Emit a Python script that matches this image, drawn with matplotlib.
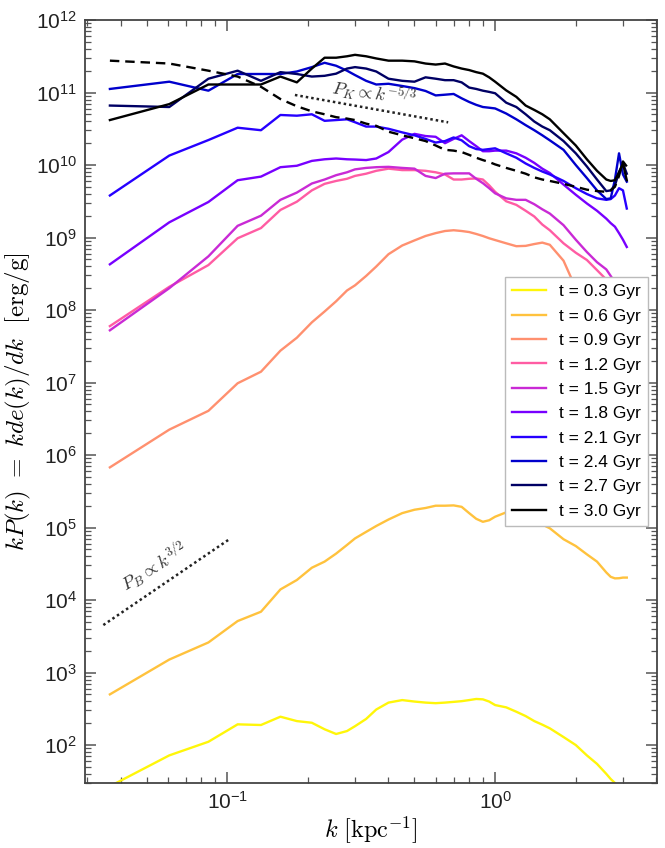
import matplotlib
matplotlib.use("Agg")
import matplotlib.pyplot as plt
from matplotlib.ticker import LogLocator, NullFormatter

plt.rcParams['font.family'] = ['Liberation Sans', 'DejaVu Sans']
plt.rcParams['mathtext.fontset'] = 'cm'

# wavenumber grid [kpc^-1]
k = [0.0365, 0.0608, 0.0851, 0.1094, 0.1337, 0.158, 0.182, 0.207, 0.231, 0.255,
     0.28, 0.30, 0.33, 0.36, 0.40, 0.45, 0.50, 0.55, 0.60, 0.65,
     0.70, 0.75, 0.80, 0.85, 0.90, 0.95, 1.0, 1.1, 1.2, 1.3,
     1.4, 1.5, 1.6, 1.8, 2.0, 2.2, 2.4, 2.6, 2.7, 2.8,
     2.9, 3.0, 3.1]

times = ["0.3", "0.6", "0.9", "1.2", "1.5", "1.8", "2.1", "2.4", "2.7", "3.0"]

# magnetic spectra kP(k) [erg/g]
p_03 = [27, 72, 111, 193, 189, 246, 214, 203, 165, 142,
        156, 182, 229, 309, 385, 417, 398, 385, 378, 385,
        394, 403, 417, 432, 427, 398, 356, 331, 288, 251,
        214, 191, 170, 129, 100, 72, 55, 40, 34, 30,
        25, 21, 19]
p_06 = [5.0e2, 1.51e3, 2.6e3, 5.13e3, 6.9e3, 1.4e4, 1.89e4, 2.79e4, 3.39e4, 4.37e4,
        5.75e4, 7.08e4, 8.71e4, 1.05e5, 1.29e5, 1.58e5, 1.76e5, 1.86e5, 2.0e5, 2.0e5,
        2.02e5, 1.93e5, 1.58e5, 1.32e5, 1.2e5, 1.26e5, 1.41e5, 1.62e5, 1.66e5, 1.51e5,
        1.26e5, 1.1e5, 9.77e4, 6.9e4, 5.56e4, 4.27e4, 3.39e4, 2.4e4, 2.09e4, 1.99e4,
        2.0e4, 2.04e4, 2.04e4]
p_09 = [6.76e5, 2.24e6, 4.07e6, 9.77e6, 1.41e7, 2.75e7, 4.15e7, 6.76e7, 9.55e7, 1.32e8,
        1.86e8, 2.19e8, 2.95e8, 3.98e8, 5.89e8, 7.76e8, 9.12e8, 1.05e9, 1.15e9, 1.23e9,
        1.26e9, 1.23e9, 1.19e9, 1.12e9, 1.05e9, 9.77e8, 9.23e8, 8.32e8, 7.59e8, 7.67e8,
        8.13e8, 8.51e8, 7.94e8, 4.79e8, 2.0e8, 7.9e7, 3.5e7, 1.6e7, 1.1e7, 7.9e6,
        6.3e6, 5.0e6, 4.0e6]
p_12 = [6.0e7, 2.09e8, 4.17e8, 9.77e8, 1.35e9, 2.4e9, 3.12e9, 4.47e9, 5.5e9, 6.03e9,
        6.46e9, 7.08e9, 7.59e9, 8.32e9, 8.91e9, 8.51e9, 8.51e9, 8.32e9, 7.94e9, 7.41e9,
        6.31e9, 6.31e9, 6.46e9, 6.53e9, 6.31e9, 5.25e9, 4.27e9, 3.16e9, 2.82e9, 2.34e9,
        1.95e9, 1.51e9, 1.26e9, 8.32e8, 6.17e8, 4.9e8, 3.55e8, 2.63e8, 2.0e8, 1.6e8,
        1.26e8, 1.0e8, 7.9e7]
p_15 = [5.25e7, 2.0e8, 5.5e8, 1.45e9, 2.0e9, 3.31e9, 4.17e9, 5.56e9, 6.31e9, 7.24e9,
        7.94e9, 8.71e9, 9.12e9, 9.33e9, 9.44e9, 9.12e9, 8.91e9, 7.08e9, 6.61e9, 7.59e9,
        7.67e9, 7.67e9, 7.67e9, 6.46e9, 5.62e9, 4.79e9, 4.07e9, 3.47e9, 3.31e9, 3.31e9,
        2.88e9, 2.45e9, 2.14e9, 1.48e9, 9.33e8, 6.31e8, 4.57e8, 3.63e8, 2.95e8, 2.4e8,
        2.0e8, 1.6e8, 1.26e8]
p_18 = [4.27e8, 1.62e9, 3.09e9, 6.17e9, 6.92e9, 9.33e9, 9.77e9, 1.14e10, 1.2e10, 1.23e10,
        1.2e10, 1.19e10, 1.17e10, 1.23e10, 1.51e10, 2.24e10, 2.69e10, 2.51e10, 2.45e10, 2.0e10,
        2.29e10, 2.57e10, 2.14e10, 1.82e10, 1.55e10, 1.55e10, 1.58e10, 1.58e10, 1.45e10, 1.26e10,
        1.07e10, 8.91e9, 7.76e9, 5.37e9, 3.89e9, 2.95e9, 2.34e9, 1.82e9, 1.58e9, 1.41e9,
        1.15e9, 9.33e8, 7.41e8]
p_21 = [3.8e9, 1.35e10, 2.21e10, 3.27e10, 3.02e10, 4.9e10, 4.79e10, 5.01e10, 4.07e10, 4.17e10,
        4.27e10, 3.89e10, 3.39e10, 3.39e10, 3.16e10, 2.82e10, 2.57e10, 2.29e10, 2.04e10, 2.14e10,
        2.4e10, 2.19e10, 1.82e10, 1.66e10, 1.62e10, 1.66e10, 1.7e10, 1.45e10, 1.26e10, 1.05e10,
        9.12e9, 8.13e9, 7.41e9, 6.03e9, 4.79e9, 3.98e9, 3.47e9, 3.31e9, 3.39e9, 3.8e9,
        4.79e9, 4.47e9, 2.51e9]
p_24 = [1.12e11, 1.41e11, 1.06e11, 1.8e11, 1.8e11, 1.8e11, 1.95e11, 2.24e11, 2.57e11, 2.34e11,
        2.0e11, 1.74e11, 1.45e11, 1.29e11, 1.32e11, 1.23e11, 1.15e11, 1.05e11, 9.12e10, 9.33e10,
        9.55e10, 8.32e10, 7.41e10, 6.76e10, 6.31e10, 6.17e10, 6.03e10, 5.13e10, 4.27e10, 3.55e10,
        3.02e10, 2.57e10, 2.19e10, 1.62e10, 1.0e10, 6.61e9, 4.47e9, 3.39e9, 3.47e9, 6.31e9,
        1.45e10, 7.41e9, 5.89e9]
p_27 = [6.61e10, 6.31e10, 1.55e11, 2.0e11, 1.45e11, 1.91e11, 1.8e11, 1.66e11, 1.7e11, 1.82e11,
        2.14e11, 2.24e11, 2.14e11, 1.95e11, 1.55e11, 1.45e11, 1.41e11, 1.62e11, 1.55e11, 1.48e11,
        1.48e11, 1.38e11, 1.17e11, 1.12e11, 1.06e11, 1.02e11, 9.77e10, 7.24e10, 6.31e10, 5.01e10,
        3.98e10, 3.39e10, 3.02e10, 2.14e10, 1.45e10, 9.55e9, 6.31e9, 4.37e9, 4.47e9, 5.25e9,
        7.94e9, 1.05e10, 7.59e9]
p_30 = [4.17e10, 6.92e10, 1.29e11, 1.29e11, 1.29e11, 1.66e11, 1.38e11, 2.14e11, 3.02e11, 3.02e11,
        3.16e11, 3.31e11, 3.16e11, 2.95e11, 2.75e11, 2.75e11, 2.69e11, 2.51e11, 2.43e11, 2.51e11,
        2.29e11, 2.14e11, 2.04e11, 1.91e11, 1.82e11, 1.62e11, 1.41e11, 1.07e11, 8.71e10, 6.61e10,
        5.75e10, 5.01e10, 4.27e10, 2.75e10, 1.86e10, 1.2e10, 8.32e9, 6.31e9, 6.03e9, 6.17e9,
        7.94e9, 1.05e10, 6.17e9]

# kinetic spectrum (dashed)
p_kin = [2.75e11, 2.51e11, 2.0e11, 1.66e11, 1.2e11, 8.13e10, 6.46e10, 5.5e10, 5.01e10, 4.57e10,
         4.37e10, 4.17e10, 3.72e10, 3.47e10, 2.88e10, 2.57e10, 2.34e10, 2.14e10, 1.86e10, 1.62e10,
         1.58e10, 1.51e10, 1.38e10, 1.26e10, 1.17e10, 1.1e10, 1.02e10, 9.12e9, 8.32e9, 7.59e9,
         6.76e9, 6.31e9, 6.03e9, 5.5e9, 5.01e9, 4.57e9, 4.37e9, 4.27e9, 4.47e9, 5.01e9,
         7.08e9, 1.12e10, 9.55e9]

# reference slopes
kol_k = [0.179, 0.668]
kol_p = [9.25e10, 3.88e10]
kaz_k = [0.0345, 0.1017]
kaz_p = [4.52e3, 6.87e4]

spectra = [p_03, p_06, p_09, p_12, p_15, p_18, p_21, p_24, p_27, p_30]

fig = plt.figure(figsize=(6.65, 8.48), dpi=100)
ax = fig.add_axes([0.128, 0.0767, 0.86, 0.8997])

for i, (t, p) in enumerate(zip(times, spectra)):
    c = plt.cm.gnuplot2(0.9 - 0.1 * i)
    ax.plot(k, p, color=c, lw=1.7, label="t = %s Gyr" % t)

ax.plot(k, p_kin, color='black', lw=1.7, ls='--', dashes=(4, 2.5))
ax.plot(kol_k, kol_p, color='#222222', lw=1.8, ls=(0, (1, 1.2)))
ax.plot(kaz_k, kaz_p, color='#222222', lw=1.8, ls=(0, (1, 1.2)))

ax.text(0.354, 9.8e10, r'$P_K \propto k^{-5/3}$', fontsize=13, color='#333333',
        rotation=-8, ha='center', va='center')
ax.text(0.0534, 2.85e4, r'$P_B \propto k^{3/2}$', fontsize=13, color='#333333',
        rotation=31, ha='center', va='center')

ax.set_xscale('log')
ax.set_yscale('log')
ax.set_xlim(0.0295, 4.02)
ax.set_ylim(30, 1e12)
ax.yaxis.set_major_locator(LogLocator(base=10, numticks=20))
ax.yaxis.set_minor_locator(LogLocator(base=10, subs=range(2, 10), numticks=20))
ax.yaxis.set_minor_formatter(NullFormatter())

ax.tick_params(which='both', direction='in', top=True, right=True,
               color='#555555', labelsize=15, labelcolor='#222222')
ax.tick_params(which='major', length=8, width=1.1, pad=6)
ax.tick_params(which='minor', length=4.5, width=0.9)
for s in ax.spines.values():
    s.set_color('#444444')
    s.set_linewidth(1.3)

ax.set_xlabel(r'$k\ [\mathrm{kpc}^{-1}]$', fontsize=17.5, labelpad=1)
ax.set_ylabel(r'$kP(k)\ =\ kde(k)/dk\ \ [\mathrm{erg/g}]$', fontsize=18, labelpad=2)

leg = ax.legend(loc='center right', fontsize=12.5, frameon=True, fancybox=False,
                framealpha=1, edgecolor='#bbbbbb', labelspacing=0.53,
                handlelength=2.0, handletextpad=0.75, borderpad=0.4)
leg.get_frame().set_linewidth(1.0)

fig.savefig('out.png', dpi=100)
